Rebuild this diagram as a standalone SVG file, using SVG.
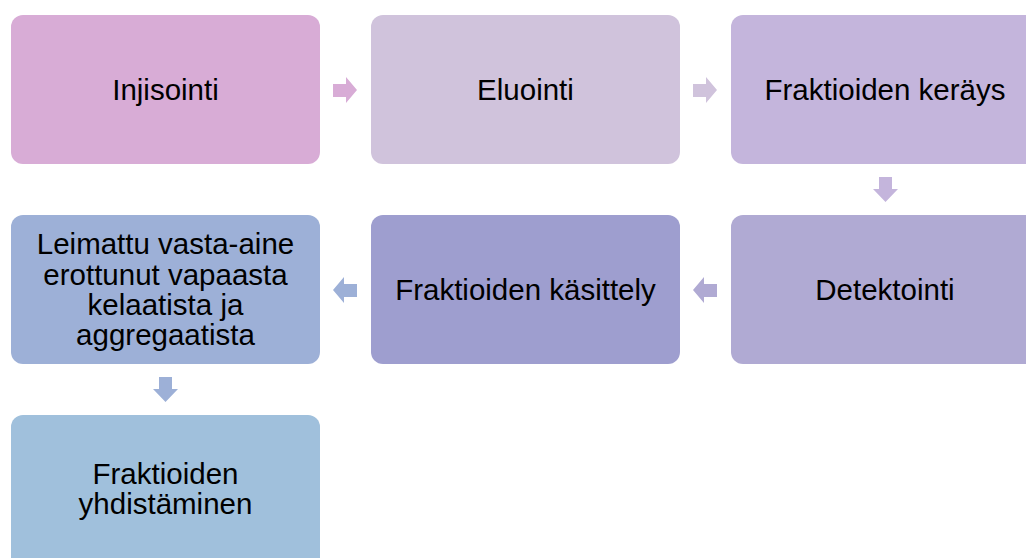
<svg xmlns="http://www.w3.org/2000/svg" width="1026" height="558" viewBox="0 0 1026 558">
<style>
text{font-family:"Liberation Sans",Arial,sans-serif;font-size:29.5px;fill:#000;text-anchor:middle}
</style>
<rect width="1026" height="558" fill="#fff"/>
<g id="n1"><rect x="11" y="15" width="309" height="149" rx="12" fill="#D8ACD6"/><text x="165.5" y="100">Injisointi</text></g>
<g id="n2"><rect x="371" y="15" width="309" height="149" rx="12" fill="#D0C3DC"/><text x="525.5" y="100">Eluointi</text></g>
<g id="n3"><rect x="731" y="15" width="309" height="149" rx="12" fill="#C4B5DC"/><text x="885" y="100">Fraktioiden keräys</text></g>
<g id="n4"><rect x="731" y="215" width="309" height="149" rx="12" fill="#B0AAD3"/><text x="885" y="300">Detektointi</text></g>
<g id="n5"><rect x="371" y="215" width="309" height="149" rx="12" fill="#9E9ECF"/><text x="525.5" y="300">Fraktioiden käsittely</text></g>
<g id="n6"><rect x="11" y="215" width="309" height="149" rx="12" fill="#9DB0D7"/><text x="165.5" y="254">Leimattu vasta-aine</text><text x="165.5" y="285">erottunut vapaasta</text><text x="165.5" y="315">kelaatista ja</text><text x="165.5" y="345">aggregaatista</text></g>
<g id="n7"><rect x="11" y="415" width="309" height="160" rx="12" fill="#A0C0DC"/><text x="165.5" y="484">Fraktioiden</text><text x="165.5" y="514">yhdistäminen</text></g>
<g id="connectors">
<polygon points="333,84 346,84 346,77 357,90 346,103 346,97 333,97" fill="#D8ACD6"/>
<polygon points="693,84 706,84 706,77 717,90 706,103 706,97 693,97" fill="#D0C3DC"/>
<polygon points="879,177 892,177 892,189 898,189 885.5,202 873,189 879,189" fill="#C4B5DC"/>
<polygon points="717,284 704,284 704,277 693,290 704,303 704,297 717,297" fill="#B0AAD3"/>
<polygon points="357,284 344,284 344,277 333,290 344,303 344,297 357,297" fill="#9DB0D7"/>
<polygon points="159,377 172,377 172,389 178,389 165.5,402 153,389 159,389" fill="#9DB0D7"/>
</g>
</svg>
